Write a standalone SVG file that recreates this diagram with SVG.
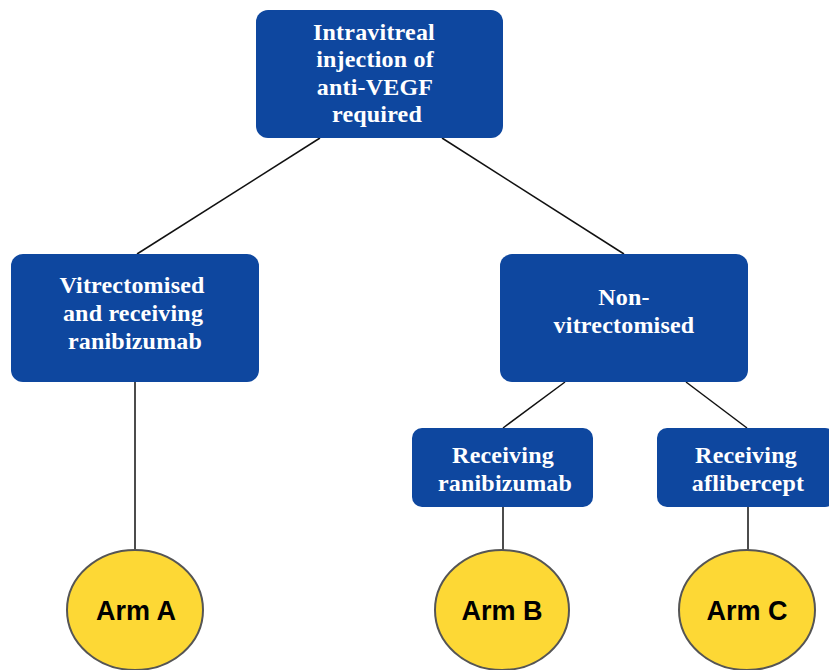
<svg xmlns="http://www.w3.org/2000/svg" width="829" height="670" viewBox="0 0 829 670">
<style>
.box{fill:#0E479F;}
.arm{fill:#FDD835;stroke:#555;stroke-width:2;}
.bt{font-family:"Liberation Serif","Times New Roman",serif;font-weight:bold;font-size:24px;fill:#fff;text-anchor:middle;letter-spacing:0.2px;}
.at{font-family:"Liberation Sans",Arial,sans-serif;font-weight:bold;font-size:27px;fill:#000;text-anchor:middle;}
.con line{stroke:#111;stroke-width:1.5;}
</style>
<rect width="829" height="670" fill="#fff"/>
<g class="con" id="connectors">
<line x1="320" y1="138" x2="137" y2="254"/>
<line x1="442" y1="138" x2="624" y2="254"/>
<line x1="135" y1="382" x2="135" y2="550"/>
<line x1="565" y1="382" x2="503" y2="428"/>
<line x1="686" y1="382" x2="747" y2="428"/>
<line x1="503" y1="507" x2="503" y2="550"/>
<line x1="748" y1="507" x2="748" y2="550"/>
</g>
<g id="n-top">
<rect class="box" x="256" y="10" width="247" height="128" rx="12"/>
<text class="bt" x="374" y="39.5">Intravitreal</text>
<text class="bt" x="375" y="67">injection of</text>
<text class="bt" x="375" y="94.5">anti-VEGF</text>
<text class="bt" x="377" y="122">required</text>
</g>
<g id="n-vit">
<rect class="box" x="11" y="254" width="248" height="128" rx="12"/>
<text class="bt" x="132" y="292.5">Vitrectomised</text>
<text class="bt" x="133" y="320.5">and receiving</text>
<text class="bt" x="135" y="348.5">ranibizumab</text>
</g>
<g id="n-nonvit">
<rect class="box" x="500" y="254" width="248" height="128" rx="12"/>
<text class="bt" x="624" y="305">Non-</text>
<text class="bt" x="624" y="333">vitrectomised</text>
</g>
<g id="n-rani">
<rect class="box" x="412" y="428" width="181" height="79" rx="10"/>
<text class="bt" x="503" y="463">Receiving</text>
<text class="bt" x="505" y="490.5">ranibizumab</text>
</g>
<g id="n-afli">
<rect class="box" x="657" y="428" width="178" height="79" rx="10"/>
<text class="bt" x="746" y="463">Receiving</text>
<text class="bt" x="748" y="490.5">aflibercept</text>
</g>
<g id="arm-a">
<ellipse class="arm" cx="135" cy="610" rx="68" ry="60"/>
<text class="at" x="136" y="620">Arm A</text>
</g>
<g id="arm-b">
<ellipse class="arm" cx="502" cy="610" rx="67" ry="60"/>
<text class="at" x="502" y="620">Arm B</text>
</g>
<g id="arm-c">
<ellipse class="arm" cx="747" cy="610" rx="68" ry="60"/>
<text class="at" x="747" y="620">Arm C</text>
</g>
</svg>
